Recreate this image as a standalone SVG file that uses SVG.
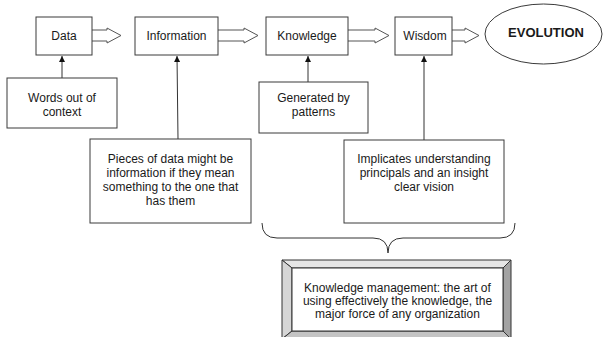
<svg xmlns="http://www.w3.org/2000/svg" width="605" height="337" viewBox="0 0 605 337">
<style>
.box{fill:#fff;stroke:#3a3a3a;stroke-width:1}
.blk{fill:#fff;stroke:#555;stroke-width:1}
.t{font-family:"Liberation Sans",Arial,sans-serif;font-size:12px;fill:#1a1a1a;text-anchor:middle}
.b{font-weight:bold;font-size:13px}
.ln{stroke:#333;stroke-width:1;fill:none}
.bev{stroke:#333;stroke-width:1}
</style>
<defs>
<marker id="ah" viewBox="0 0 10 10" refX="10" refY="5" markerWidth="6" markerHeight="6" markerUnits="userSpaceOnUse" orient="auto">
<path d="M0,0 L10,5 L0,10 z" fill="#111"/>
</marker>
</defs>
<g id="connectors">
<line class="ln" x1="62" y1="78" x2="62" y2="56" marker-end="url(#ah)"/>
<line class="ln" x1="178" y1="139" x2="177" y2="56" marker-end="url(#ah)"/>
<line class="ln" x1="308" y1="82" x2="308" y2="56" marker-end="url(#ah)"/>
<line class="ln" x1="424" y1="140" x2="424" y2="56" marker-end="url(#ah)"/>
<path class="blk" d="M92,30 L107,30 L107,28 L121,35.5 L107,43 L107,41 L92,41"/>
<path class="blk" d="M218,30 L244,30 L244,28 L258,35.5 L244,43 L244,41 L218,41"/>
<path class="blk" d="M348,30 L375,30 L375,28 L389,35.5 L375,43 L375,41 L348,41"/>
<path class="blk" d="M452,30 L465,30 L465,28 L479,35.5 L465,43 L465,41 L452,41"/>
<path class="ln" d="M262,223 Q262,238 277,238 L373,238 Q388,238 388,253 Q388,238 403,238 L500,238 Q515,238 515,223"/>
</g>
<g id="data"><rect class="box" x="36" y="17" width="56" height="38"/><text class="t" x="64" y="40">Data</text></g>
<g id="information"><rect class="box" x="135" y="17" width="83" height="38"/><text class="t" x="176.5" y="40">Information</text></g>
<g id="knowledge"><rect class="box" x="266" y="17" width="82" height="38"/><text class="t" x="307" y="40">Knowledge</text></g>
<g id="wisdom"><rect class="box" x="395" y="17" width="57" height="38"/><text class="t" x="425" y="40">Wisdom</text></g>
<g id="evolution"><ellipse class="box" cx="543.5" cy="34" rx="58.5" ry="30"/><text class="t b" x="546" y="37">EVOLUTION</text></g>
<g id="words"><rect class="box" x="7" y="78" width="110" height="50"/><text class="t" x="62" y="102">Words out of</text><text class="t" x="62" y="116">context</text></g>
<g id="generated"><rect class="box" x="259" y="82" width="109" height="51"/><text class="t" x="313.5" y="102">Generated by</text><text class="t" x="313.5" y="116">patterns</text></g>
<g id="pieces"><rect class="box" x="90" y="139" width="161" height="84"/>
<text class="t" x="170.5" y="163">Pieces of data might be</text>
<text class="t" x="170.5" y="177">information if they mean</text>
<text class="t" x="170.5" y="191">something to the one that</text>
<text class="t" x="170.5" y="205">has them</text></g>
<g id="implicates"><rect class="box" x="344" y="140" width="160" height="83"/>
<text class="t" x="424" y="163">Implicates understanding</text>
<text class="t" x="424" y="177">principals and an insight</text>
<text class="t" x="424" y="191">clear vision</text></g>
<g id="km">
<polygon class="bev" points="282,260 511,260 503,268 292,268" fill="#e6e6e6"/>
<polygon class="bev" points="282,260 292,268 292,331 282,339" fill="#d6d6d6"/>
<polygon class="bev" points="511,260 511,339 503,331 503,268" fill="#a3a3a3"/>
<polygon class="bev" points="282,339 511,339 503,331 292,331" fill="#c4c4c4"/>
<rect x="292" y="268" width="211" height="63" fill="#fff" stroke="#333"/>
<text class="t" x="397.5" y="292">Knowledge management: the art of</text>
<text class="t" x="397.5" y="305">using effectively the knowledge, the</text>
<text class="t" x="397.5" y="318">major force of any organization</text>
</g>
</svg>
